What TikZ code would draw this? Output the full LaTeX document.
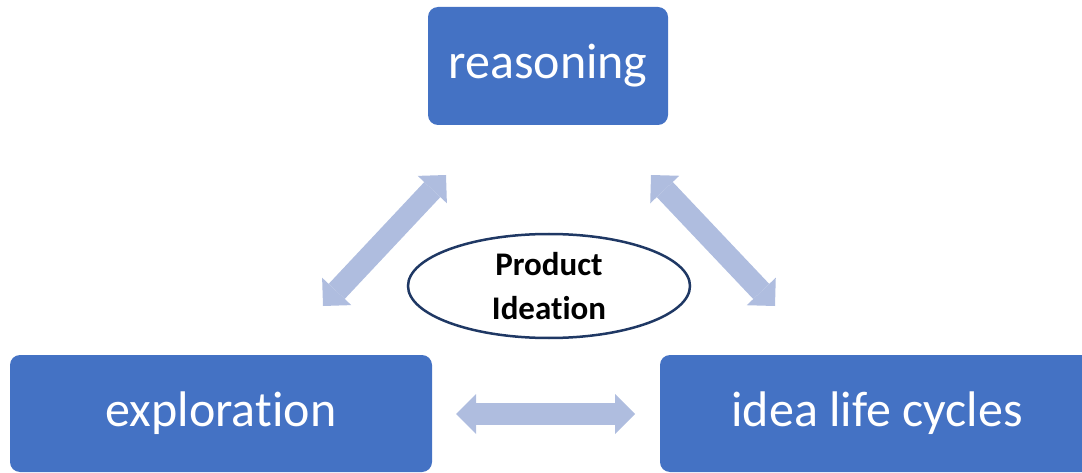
\documentclass[tikz,border=0pt]{standalone}
\usepackage{fontspec}
\setmainfont{Carlito}[Ligatures=NoCommon]
\usetikzlibrary{arrows.meta, shapes.geometric}

\definecolor{boxblue}{HTML}{4472C4}
\definecolor{arrowblue}{RGB}{175,189,223}
\definecolor{rimnavy}{HTML}{1F3864}

\begin{document}
\begin{tikzpicture}[
    x=1pt, y=-1pt,
    % Node styles
    topic/.style={
        rectangle, rounded corners=10pt, fill=boxblue, text=white,
        inner sep=0pt, font=\fontsize{50}{60}\selectfont,
    },
    core/.style={
        ellipse, draw=rimnavy, line width=2.5pt, fill=white,
        minimum width=282pt, minimum height=104pt, inner sep=0pt,
        font=\fontsize{33}{44}\selectfont\bfseries, align=center,
    },
    % Block arrows between the topics
    link/.style={
        draw=arrowblue, line width=22pt,
        {Triangle[width=40pt,length=20pt,line width=0pt]}-{Triangle[width=40pt,length=20pt,line width=0pt]},
    },
]
\useasboundingbox (0,0) rectangle (1082,473);

% --- Topic boxes ---
\node[topic, minimum width=240pt, minimum height=118pt] (reasoning) at (548,66) {reasoning};
\node[topic, minimum width=422pt, minimum height=117pt] (exploration) at (221,413.5) {exploration};
\node[topic, minimum width=434pt, minimum height=117pt] (lifecycles) at (877,413.5) {idea life cycles};

% --- Arrow end points ---
\coordinate (reasonleft)  at (446,175);
\coordinate (explorup)    at (323,306);
\coordinate (reasonright) at (651,175);
\coordinate (cycleup)     at (775,306);
\coordinate (explorright) at (456,414);
\coordinate (cycleleft)   at (635,414);

\draw[link] (explorup) -- (reasonleft);
\draw[link] (reasonright) -- (cycleup);
\draw[link] (explorright) -- (cycleleft);

% --- Centre ---
\node[core] (ideation) at (549,286) {Product\\Ideation};

\end{tikzpicture}
\end{document}
